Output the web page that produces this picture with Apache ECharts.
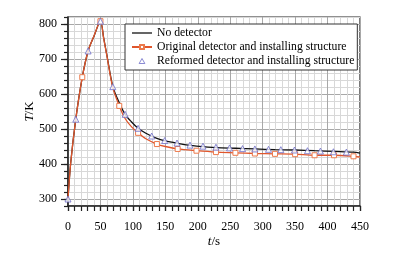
<!DOCTYPE html>
<html>
<head>
<meta charset="utf-8">
<script src="https://cdn.jsdelivr.net/npm/echarts@6/dist/echarts.min.js"></script>
<style>
html, body { margin: 0; padding: 0; background: #fff; }
#chart { width: 401px; height: 253px; }
</style>
</head>
<body>
<div id="chart"></div>
<script>
// legend names
const seriesNames = [
  "No detector",
  "Original detector and installing structure",
  "Reformed detector and installing structure"
];

// No detector (black line)
const timeNo = [0, 4, 12, 22, 31, 40, 50, 55, 60, 69, 79, 88, 98, 108, 120, 137, 150, 169, 188, 198, 228, 258, 288, 319, 350, 380, 410, 440, 450];
const tempNo = [300, 400, 528, 648, 723, 765, 808, 760, 710, 622, 575, 542, 520, 502, 488, 473, 466, 459, 453, 451, 447, 445, 443, 441, 440, 438, 436, 434, 431];

// Original detector (orange line, squares on some points)
const timeOrig = [0, 4, 12, 22, 31, 40, 50, 55, 60, 69, 79, 88, 98, 108, 120, 137, 150, 169, 198, 228, 258, 288, 319, 350, 380, 410, 440, 450];
const tempOrig = [300, 400, 528, 648, 723, 766, 808, 758, 708, 618, 566, 530, 506, 489, 472, 457, 450, 443, 438, 434, 432, 430, 429, 428, 425, 425, 422, 420];
const timeOrigMarked = [22, 50, 79, 108, 137, 169, 198, 228, 258, 288, 319, 350, 380, 410, 440];

// Reformed detector (triangles)
const timeRef = [0, 12, 31, 50, 69, 88, 108, 129, 149, 168, 188, 208, 228, 249, 269, 288, 309, 328, 349, 369, 389, 409, 429];
const tempRef = [300, 528, 723, 808, 621, 542, 502, 480, 467, 460, 454, 451, 448, 446, 444, 443, 442, 441, 440, 438, 437, 435, 434];

const yMajor = [300, 400, 500, 600, 700, 800];

const font = "Liberation Serif";
const triStyle = { color: "#fff", borderColor: "#6e6ec8", borderWidth: 1 };
const myChart = echarts.init(document.getElementById("chart"));

const option = {
  animation: false,
  textStyle: { fontFamily: font, color: "#000" },
  grid: {
    left: 68, right: 41, top: 17, bottom: 40,
    show: true, borderColor: "#222", borderWidth: 1.2, backgroundColor: "transparent"
  },
  legend: {
    orient: "vertical",
    left: 125, top: 24,
    padding: [3, 3, 3, 6],
    itemGap: 2,
    itemWidth: 20, itemHeight: 5,
    symbolKeepAspect: true,
    backgroundColor: "#fff",
    borderColor: "#333", borderWidth: 1,
    textStyle: { fontFamily: font, fontSize: 11.7, color: "#000" },
    data: [
      { name: seriesNames[0], icon: "path://M0,0 L20,0 L20,1.3 L0,1.3 Z" },
      { name: seriesNames[1] },
      { name: seriesNames[2], icon: "path://M5,0 L10,8.7 L0,8.7 Z", itemStyle: triStyle }
    ]
  },
  xAxis: [
    {
      type: "value", min: 0, max: 450, interval: 10,
      axisLine: { lineStyle: { color: "#222", width: 1.5 } },
      axisTick: { length: 5, lineStyle: { color: "#222", width: 1.2 } },
      axisLabel: { show: false },
      splitLine: { lineStyle: { color: "#d8d8d8", width: 1 } }
    },
    {
      type: "value", min: 0, max: 450, interval: 50, position: "bottom",
      name: "{i|t}/s", nameLocation: "middle", nameGap: 29, nameMoveOverlap: false,
      nameTextStyle: { fontFamily: font, fontSize: 13, color: "#000", rich: { i: { fontStyle: "italic", fontFamily: font, fontSize: 13 } } },
      axisLine: { show: false },
      axisTick: { length: 5, lineStyle: { color: "#222", width: 1.2 } },
      axisLabel: { fontFamily: font, fontSize: 12, color: "#000", margin: 15 },
      splitLine: { lineStyle: { color: "#a8a8a8", width: 1 } }
    }
  ],
  yAxis: [
    {
      type: "value", min: 280, max: 820, interval: 20,
      axisLine: { show: true, lineStyle: { color: "#222", width: 1.5 } },
      axisTick: { length: 4, lineStyle: { color: "#222", width: 1.2 } },
      axisLabel: { show: false },
      splitLine: { lineStyle: { color: "#d8d8d8", width: 1 } }
    },
    {
      type: "value", min: 280, max: 820, position: "left",
      name: "{i|T}/K", nameLocation: "middle", nameGap: 32, nameMoveOverlap: false,
      nameTextStyle: { fontFamily: font, fontSize: 13, color: "#000", rich: { i: { fontStyle: "italic", fontFamily: font, fontSize: 13 } } },
      axisLine: { show: false },
      axisTick: { length: 7, customValues: yMajor, lineStyle: { color: "#222", width: 1.2 } },
      axisLabel: { fontFamily: font, fontSize: 12, color: "#000", margin: 11, customValues: yMajor },
      splitLine: { lineStyle: { color: "#a8a8a8", width: 1 } }
    }
  ],
  series: [
    {
      name: seriesNames[0],
      type: "line",
      xAxisIndex: 0, yAxisIndex: 0,
      smooth: 0.3,
      symbol: "none",
      lineStyle: { color: "#111", width: 1.3 },
      itemStyle: { color: "#111" },
      data: timeNo.map((t, i) => [t, tempNo[i]]),
      z: 3
    },
    {
      name: seriesNames[1],
      type: "line",
      xAxisIndex: 0, yAxisIndex: 0,
      smooth: 0.3,
      symbol: "rect",
      symbolSize: 5,
      showAllSymbol: true,
      lineStyle: { color: "#e0562c", width: 1.3 },
      itemStyle: { color: "#fff", borderColor: "#ec7a4c", borderWidth: 1 },
      data: timeOrig.map((t, i) => timeOrigMarked.includes(t)
        ? { value: [t, tempOrig[i]] }
        : { value: [t, tempOrig[i]], symbol: "none" }),
      z: 4
    },
    {
      name: seriesNames[2],
      type: "scatter",
      xAxisIndex: 0, yAxisIndex: 0,
      symbol: "triangle",
      symbolSize: 6,
      itemStyle: triStyle,
      data: timeRef.map((t, i) => [t, tempRef[i]]),
      z: 5
    }
  ]
};

myChart.setOption(option);
</script>
</body>
</html>
